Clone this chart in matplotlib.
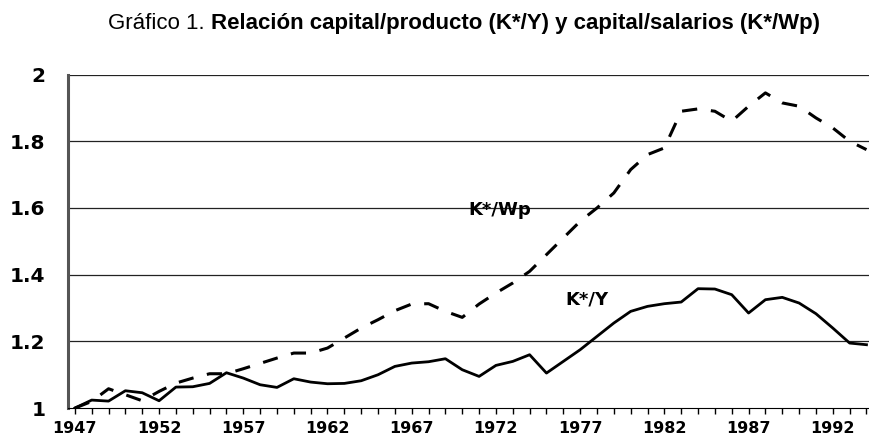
import numpy as np
import matplotlib
matplotlib.use("Agg")
import matplotlib.pyplot as plt
from matplotlib.ticker import MultipleLocator, FixedLocator

# Datos (1947-1994)
anios = list(range(1947, 1995))

k_y = [1.000, 1.024, 1.021, 1.052, 1.046, 1.022, 1.063, 1.064, 1.074, 1.106,
       1.090, 1.070, 1.062, 1.088, 1.078, 1.073, 1.074, 1.082, 1.100, 1.125,
       1.135, 1.139, 1.148, 1.115, 1.095, 1.128, 1.140, 1.160, 1.105, 1.140,
       1.175, 1.215, 1.255, 1.290, 1.305, 1.313, 1.318, 1.358, 1.357, 1.340,
       1.285, 1.325, 1.332, 1.315, 1.283, 1.240, 1.195, 1.190]

k_wp = [1.000, 1.020, 1.058, 1.040, 1.022, 1.050, 1.075, 1.090, 1.103, 1.103,
        1.118, 1.134, 1.150, 1.165, 1.165, 1.180, 1.210, 1.240, 1.265, 1.292,
        1.312, 1.313, 1.290, 1.272, 1.312, 1.345, 1.375, 1.410, 1.460, 1.510,
        1.560, 1.600, 1.645, 1.715, 1.760, 1.780, 1.890, 1.897, 1.890, 1.860,
        1.905, 1.945, 1.915, 1.905, 1.870, 1.840, 1.800, 1.775]

y_ticks = [1.0, 1.2, 1.4, 1.6, 1.8, 2.0]
y_labels = ["1", "1.2", "1.4", "1.6", "1.8", "2"]
x_labels = list(range(1947, 1993, 5))

fig = plt.figure(figsize=(8.69, 4.36), dpi=100)
ax = fig.add_axes([0.078, 0.064, 0.922, 0.765])

# líneas horizontales
for v in y_ticks[1:]:
    ax.axhline(v, color="#222222", lw=0.9, zorder=1)

ax.plot(anios, k_y, color="black", lw=2.0, zorder=3)
ax.plot(anios, k_wp, color="black", lw=2.2, dashes=(5, 4.5), zorder=3)

ax.set_xlim(1946.58, 1994.15)
ax.set_ylim(1.0, 2.0)

ax.xaxis.set_major_locator(FixedLocator(x_labels))
ax.xaxis.set_minor_locator(MultipleLocator(1))
ax.set_xticklabels([str(a) for a in x_labels], fontsize=11.5, fontweight="bold")
ax.tick_params(axis="x", which="both", direction="out", length=4, width=1, pad=5)

ax.set_yticks(y_ticks)
ax.set_yticklabels(y_labels, fontsize=14.5, fontweight="bold")
ax.tick_params(axis="y", length=0, pad=16)

for s in ["top", "right"]:
    ax.spines[s].set_visible(False)
ax.spines["left"].set_linewidth(2.2)
ax.spines["left"].set_color("#555555")
ax.spines["bottom"].set_linewidth(0.8)

ax.text(1972.2, 1.595, "K*/Wp", fontsize=13, fontweight="bold", ha="center", va="center")
ax.text(1977.4, 1.327, "K*/Y", fontsize=13, fontweight="bold", ha="center", va="center")

# título con dos pesos
fam = ["Liberation Sans Narrow", "Liberation Sans", "DejaVu Sans"]
t1 = fig.text(108 / 869, 1 - 29 / 436, "Gráfico 1. ", fontsize=16, family=fam)
fig.canvas.draw()
bb = t1.get_window_extent()
fig.text(bb.x1 / fig.bbox.width, 1 - 29 / 436,
         "Relación capital/producto (K*/Y) y capital/salarios (K*/Wp)",
         fontsize=16, fontweight="bold", family=fam)

fig.savefig("out.png", dpi=100)
